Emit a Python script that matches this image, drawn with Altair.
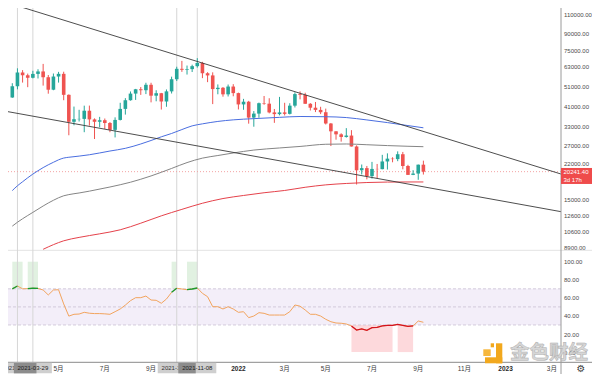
import altair as alt
import pandas as pd
import numpy as np

# ---------------- data ----------------
weeks = [
    "2021-03-01", "2021-03-08", "2021-03-15", "2021-03-22", "2021-03-29", "2021-04-05", "2021-04-12", "2021-04-19", "2021-04-26",
    "2021-05-03", "2021-05-10", "2021-05-17", "2021-05-24", "2021-05-31", "2021-06-07", "2021-06-14", "2021-06-21", "2021-06-28",
    "2021-07-05", "2021-07-12", "2021-07-19", "2021-07-26", "2021-08-02", "2021-08-09", "2021-08-16", "2021-08-23", "2021-08-30",
    "2021-09-06", "2021-09-13", "2021-09-20", "2021-09-27", "2021-10-04", "2021-10-11", "2021-10-18", "2021-10-25", "2021-11-01",
    "2021-11-08", "2021-11-15", "2021-11-22", "2021-11-29", "2021-12-06", "2021-12-13", "2021-12-20", "2021-12-27", "2022-01-03",
    "2022-01-10", "2022-01-17", "2022-01-24", "2022-01-31", "2022-02-07", "2022-02-14", "2022-02-21", "2022-02-28", "2022-03-07",
    "2022-03-14", "2022-03-21", "2022-03-28", "2022-04-04", "2022-04-11", "2022-04-18", "2022-04-25", "2022-05-02", "2022-05-09",
    "2022-05-16", "2022-05-23", "2022-05-30", "2022-06-06", "2022-06-13", "2022-06-20", "2022-06-27", "2022-07-04", "2022-07-11",
    "2022-07-18", "2022-07-25", "2022-08-01", "2022-08-08", "2022-08-15", "2022-08-22", "2022-08-29", "2022-09-05", "2022-09-12"]

opens = [
    45140, 50970, 59020, 57350, 55820, 58200, 59770, 56150, 49070,
    56580, 58250, 46430, 34700, 35680, 35800, 39100, 35600, 34700,
    35290, 34250, 31800, 35400, 39880, 43800, 47050, 49300, 48800,
    51750, 46000, 47250, 43200, 48200, 54950, 61500, 60850, 61300,
    63280, 65470, 58620, 57270, 49400, 50100, 46680, 50780, 47300,
    41860, 43100, 36300, 37900, 42410, 42200, 38400, 37700, 38400,
    37800, 41300, 46800, 46400, 42150, 40400, 39450, 38470, 34060,
    31300, 30300, 29450, 29900, 26570, 20550, 21030, 19300, 20850,
    20800, 22600, 23300, 23180, 24440, 21520, 19550, 19830, 21830]
highs = [
    52640, 61840, 60630, 58400, 60200, 61200, 64850, 57530, 58450,
    59500, 59600, 46660, 40900, 39500, 41300, 41330, 36000, 36600,
    35950, 34600, 36400, 42600, 44800, 48150, 49500, 50500, 52900,
    52900, 48800, 47400, 49200, 56500, 62900, 67000, 63700, 64300,
    69000, 66300, 59300, 59200, 51950, 50500, 51900, 52100, 47550,
    44450, 43500, 38950, 42700, 45850, 44750, 39850, 45400, 42600,
    42400, 47700, 48200, 47500, 42450, 42980, 40800, 40000, 34250,
    31350, 30650, 32400, 31700, 26900, 21870, 21530, 22500, 22000,
    24280, 24670, 23650, 25210, 25050, 21800, 20580, 21860, 22800]
lows = [
    44950, 49270, 53000, 50430, 55470, 55400, 51300, 47000, 48800,
    53000, 43800, 30000, 33400, 34800, 31000, 33300, 28800, 32700,
    32100, 31000, 29300, 35200, 37500, 43600, 43950, 46400, 46800,
    42800, 43300, 39600, 40800, 47100, 53900, 59500, 57800, 59400,
    62300, 55600, 53250, 42000, 46700, 45500, 45600, 45700, 39650,
    39500, 34000, 32900, 36250, 41700, 38000, 34300, 37200, 37150,
    37550, 40500, 44200, 42100, 39200, 38540, 37700, 33700, 26700,
    28600, 28000, 29250, 26560, 17620, 19640, 18630, 18780, 18900,
    20760, 20710, 22400, 22670, 20760, 19530, 19500, 18540, 19620]
closes = [
    50970, 59020, 57350, 55820, 58200, 59770, 56150, 49070, 56580,
    58250, 46430, 34700, 35680, 35800, 39100, 35600, 34700, 35290,
    34250, 31800, 35400, 39880, 43800, 47050, 49300, 48800, 51750,
    46000, 47250, 43200, 48200, 54950, 61500, 60850, 61300, 63280,
    65470, 58620, 57270, 49400, 50100, 46680, 50780, 47300, 41860,
    43100, 36300, 37900, 42410, 42200, 38400, 37700, 38400, 37800,
    41300, 46800, 46400, 42150, 40400, 39450, 38470, 34060, 31300,
    30300, 29450, 29900, 26570, 20550, 21030, 19300, 20850, 20800,
    22600, 23300, 23180, 24440, 21520, 19550, 19830, 21830, 20241.4]

rsi_values = [
    70.0, 73.1, 70.0, 70.2, 70.6, 70.4, 68.7, 63.2, 68.7,
    69.0, 53.3, 39.8, 41.8, 42.1, 44.0, 43.0, 42.6, 42.6,
    42.3, 41.8, 44.7, 47.7, 52.0, 56.9, 60.2, 60.2, 62.0,
    57.6, 57.3, 54.0, 58.7, 66.1, 70.6, 69.8, 69.0, 69.8,
    70.9, 65.0, 61.3, 50.2, 50.2, 47.7, 50.2, 47.7, 44.0,
    44.7, 38.1, 39.9, 43.6, 42.9, 41.0, 41.0, 41.0, 41.0,
    44.7, 52.1, 50.8, 46.6, 41.8, 41.8, 39.9, 36.3, 33.6,
    32.2, 31.9, 31.1, 28.9, 24.4, 25.6, 24.1, 27.0, 27.4,
    28.9, 29.6, 29.6, 30.7, 29.5, 28.4, 28.9, 34.4, 33.0]

ma_fast_dates = ["2021-03-01", "2021-03-08", "2021-03-15", "2021-03-22", "2021-03-29", "2021-04-05", "2021-04-12",
                 "2021-04-19", "2021-04-26", "2021-05-03", "2021-05-10", "2021-05-17", "2021-05-31", "2021-06-14",
                 "2021-07-12", "2021-08-02", "2021-08-23", "2021-09-06", "2021-09-20", "2021-10-04", "2021-10-18",
                 "2021-11-01", "2021-11-15", "2021-12-06", "2021-12-27", "2022-01-24", "2022-02-28", "2022-03-28",
                 "2022-05-02", "2022-05-30", "2022-06-27", "2022-07-25", "2022-08-22", "2022-09-12"]
ma_fast_values = [16500, 17380, 18150, 18950, 19720, 20450, 21150,
                  21800, 22400, 23000, 23450, 23650, 23950, 24300,
                  25300, 26050, 27300, 28350, 29500, 30580, 31900,
                  33200, 33930, 34830, 35430, 35900, 36400, 36740,
                  36650, 36320, 35400, 34400, 33300, 32520]

ma_mid_dates = ["2021-03-01", "2021-03-08", "2021-03-15", "2021-03-29", "2021-04-12", "2021-04-26", "2021-05-10",
                "2021-05-17", "2021-05-31", "2021-06-14", "2021-07-12", "2021-08-09", "2021-09-06", "2021-10-04",
                "2021-10-25", "2021-11-15", "2021-12-06", "2021-12-27", "2022-01-24", "2022-02-28", "2022-03-28",
                "2022-05-02", "2022-05-30", "2022-06-27", "2022-07-25", "2022-08-22", "2022-09-12"]
ma_mid_values = [11240, 11720, 12170, 13040, 13970, 14860, 15600,
                 15800, 16080, 16400, 17150, 18060, 19330, 20960,
                 22330, 23430, 24100, 24770, 25560, 26150, 26580,
                 27220, 27300, 27080, 26830, 26630, 26510]

ma_slow_dates = ["2021-04-12", "2021-04-26", "2021-05-10", "2021-05-31", "2021-06-28", "2021-07-26", "2021-08-23",
                 "2021-09-20", "2021-10-18", "2021-11-15", "2021-12-13", "2022-01-10", "2022-02-07", "2022-03-07",
                 "2022-04-04", "2022-05-02", "2022-05-30", "2022-06-27", "2022-07-25", "2022-08-22", "2022-09-12"]
ma_slow_values = [8750, 9200, 9590, 9950, 10340, 10800, 11600,
                  12560, 13470, 14390, 15140, 15650, 16120, 16520,
                  17100, 17550, 17820, 18000, 18090, 18110, 18110]

trend_dates = ["2021-02-15", "2023-03-20"]
upper_trend = [127900, 19660]
lower_trend = [39160, 13110]

zone_start = ["2021-03-01", "2021-03-22", "2021-10-04", "2021-10-25", "2022-06-06", "2022-08-08"]
zone_end = ["2021-03-15", "2021-04-05", "2021-10-11", "2021-11-08", "2022-08-01", "2022-08-29"]
zone_kind = ["over", "over", "over", "over", "under", "under"]

line_hl_start = ["2021-03-01", "2021-03-22", "2021-10-04", "2021-10-25", "2022-06-06"]
line_hl_end = ["2021-03-08", "2021-04-05", "2021-10-11", "2021-11-08", "2022-08-29"]
line_hl_kind = ["over", "over", "over", "over", "under"]

price_ticks = [110000, 90000, 75000, 63000, 51000, 41000, 33000, 27000, 22000, 18600, 15000, 12600, 10600, 8900]
rsi_ticks = [0, 20, 40, 60, 80, 100]
rsi_levels = [70, 50, 30]
rsi_band = [70, 30]
zone_levels = {"over": (100, 70), "under": (30, 0)}

last_price = [20241.40]
countdown = ["3d 17h"]

marker_dates = ["2021-03-08", "2021-03-29", "2021-10-11", "2021-11-08"]

tick_dates = ["2021-03-01", "2021-05-03", "2021-07-05", "2021-09-06", "2021-11-01", "2022-01-03", "2022-03-07",
              "2022-05-02", "2022-07-04", "2022-09-05", "2022-11-07", "2023-01-02", "2023-03-06"]
tick_labels = ["3月", "5月", "7月", "9月", "11月", "2022", "3月", "5月", "7月", "9月", "11月", "2023", "3月"]
tick_bold = [False, False, False, False, False, True, False, False, False, False, False, True, False]

# ---------------- layout / style ----------------
W, H, PANE = 553, 354.3, 242.3
FULL_W, FULL_H = 584, 366
FONT = "Liberation Sans, Noto Sans CJK SC, sans-serif"
UP, DN = "#26a69a", "#ef5350"
LABEL_SIZE = 6.0

xs = alt.Scale(type="utc", domain=[
    alt.DateTime(year=2021, month=3, date=1, hours=22, minutes=29, utc=True),
    alt.DateTime(year=2023, month=3, date=11, hours=16, minutes=5, utc=True)])
ps = alt.Scale(type="log", domain=[2580.7, 118637], nice=False)
rs = alt.Scale(type="linear", domain=[-11.28, 380.6], nice=False, zero=False)


def X(field="date"):
    return alt.X(f"{field}:T", scale=xs, axis=None)


axis_common = dict(orient="right", format=".2f", grid=False, ticks=False, tickSize=0, domain=False,
                   labelFont=FONT, labelFontSize=LABEL_SIZE, labelColor="#4a4a4a", labelPadding=2.5,
                   labelOverlap=False, title=None)
price_axis = alt.Axis(values=price_ticks, **axis_common)
rsi_axis = alt.Axis(values=rsi_ticks, **axis_common)

one = pd.DataFrame({"a": [0]})

# ---------------- frames ----------------
candles = pd.DataFrame({"date": weeks, "open": opens, "high": highs, "low": lows, "close": closes})
candles["dir"] = np.where(candles["close"] >= candles["open"], "up", "down")
dir_color = alt.Color("dir:N", scale=alt.Scale(domain=["up", "down"], range=[UP, DN]), legend=None)

ma = pd.concat([
    pd.DataFrame({"date": ma_fast_dates, "value": ma_fast_values, "series": "fast"}),
    pd.DataFrame({"date": ma_mid_dates, "value": ma_mid_values, "series": "mid"}),
    pd.DataFrame({"date": ma_slow_dates, "value": ma_slow_values, "series": "slow"}),
])
trend = pd.concat([
    pd.DataFrame({"date": trend_dates, "value": upper_trend, "line": "upper"}),
    pd.DataFrame({"date": trend_dates, "value": lower_trend, "line": "lower"}),
])
rsi_df = pd.DataFrame({"date": weeks, "rsi": rsi_values})
hl_parts = []
for gi, (s, e, k) in enumerate(zip(line_hl_start, line_hl_end, line_hl_kind)):
    sub = rsi_df[(rsi_df["date"] >= s) & (rsi_df["date"] <= e)].copy()
    sub["grp"] = gi
    sub["kind"] = k
    hl_parts.append(sub)
hl_df = pd.concat(hl_parts)
zones = pd.DataFrame({"start": zone_start, "end": zone_end, "kind": zone_kind})
zones["top"] = [zone_levels[k][0] for k in zone_kind]
zones["bottom"] = [zone_levels[k][1] for k in zone_kind]
price_df = pd.DataFrame({"price": last_price, "countdown": countdown})
markers = pd.DataFrame({"date": marker_dates, "label": marker_dates, "pos": [0, 1, 0, 1]})
pairs = pd.DataFrame({"first": marker_dates[0::2], "second": marker_dates[1::2]})
ticks_df = pd.DataFrame({"date": tick_dates, "label": tick_labels, "bold": tick_bold})

# ---------------- layers ----------------
layers = []

# RSI pane background
layers.append(alt.Chart(pd.DataFrame({"hi": [rsi_band[0]], "lo": [rsi_band[1]]})).mark_rect(color="#f3eef9").encode(
    x=alt.value(0), x2=alt.value(W), y=alt.Y("hi:Q", scale=rs, axis=rsi_axis), y2="lo:Q"))
layers.append(alt.Chart(zones).mark_rect().encode(
    x=X("start"), x2="end:T", y=alt.Y("top:Q", scale=rs, axis=None), y2="bottom:Q",
    color=alt.Color("kind:N", scale=alt.Scale(domain=["over", "under"], range=["#e1f1e1", "#fdd9dc"]), legend=None)))
layers.append(alt.Chart(pd.DataFrame({"level": rsi_levels})).mark_rule(
    color="#c9c2d3", strokeDash=[3, 2], strokeWidth=0.8).encode(
    x=alt.value(0), x2=alt.value(W), y=alt.Y("level:Q", scale=rs, axis=None)))

# pane divider
layers.append(alt.Chart(one).mark_rule(color="#e3e3e3", strokeWidth=1).encode(
    x=alt.value(0), x2=alt.value(FULL_W), y=alt.value(PANE)))

# vertical marker lines
layers.append(alt.Chart(markers).mark_rule(color="#d6d6d6", strokeWidth=1).encode(
    x=X("date"), y=alt.value(0), y2=alt.value(H)))

# last price dotted line
layers.append(alt.Chart(price_df).mark_rule(color="#f3a3a3", strokeDash=[1, 2], strokeWidth=1).encode(
    x=alt.value(0), x2=alt.value(W), y=alt.Y("price:Q", scale=ps, axis=None)))

# candles
layers.append(alt.Chart(candles).mark_rule(strokeWidth=1).encode(
    x=X(), y=alt.Y("low:Q", scale=ps, axis=price_axis), y2="high:Q", color=dir_color))
layers.append(alt.Chart(candles).mark_bar(size=3.6).encode(
    x=X(), y=alt.Y("open:Q", scale=ps, axis=None), y2="close:Q", color=dir_color))

# moving averages
layers.append(alt.Chart(ma).mark_line(strokeWidth=1, interpolate="monotone").encode(
    x=X(), y=alt.Y("value:Q", scale=ps, axis=None),
    color=alt.Color("series:N", scale=alt.Scale(domain=["fast", "mid", "slow"],
                                                range=["#4a6ee0", "#858585", "#e5424b"]), legend=None)))

# trend lines
layers.append(alt.Chart(trend).mark_line(color="#3a3a3a", strokeWidth=0.9, clip=True).encode(
    x=X(), y=alt.Y("value:Q", scale=ps, axis=None), detail="line:N"))

# RSI line
layers.append(alt.Chart(rsi_df).mark_line(color="#f2a45e", strokeWidth=1).encode(
    x=X(), y=alt.Y("rsi:Q", scale=rs, axis=None)))
layers.append(alt.Chart(hl_df).mark_line(strokeWidth=1.3).encode(
    x=X(), y=alt.Y("rsi:Q", scale=rs, axis=None), detail="grp:N",
    color=alt.Color("kind:N", scale=alt.Scale(domain=["over", "under"], range=["#1b9a2e", "#d3121f"]), legend=None)))

# axis lines
layers.append(alt.Chart(one).mark_rule(color="#8a8a8a", strokeWidth=1).encode(
    x=alt.value(0), x2=alt.value(FULL_W), y=alt.value(H)))
layers.append(alt.Chart(one).mark_rule(color="#9a9a9a", strokeWidth=1).encode(
    x=alt.value(W), y=alt.value(0), y2=alt.value(FULL_H)))

# last price label
layers.append(alt.Chart(price_df).mark_rect(color="#ef4b4b", yOffset=-3.7, y2Offset=12.3).encode(
    x=alt.value(W), x2=alt.value(FULL_W), y=alt.Y("price:Q", scale=ps, axis=None), y2="price:Q"))
layers.append(alt.Chart(price_df).mark_text(align="left", baseline="middle", color="white", fontSize=LABEL_SIZE,
                                            font=FONT).encode(
    x=alt.value(W + 2.5), y=alt.Y("price:Q", scale=ps, axis=None), text=alt.Text("price:Q", format=".2f")))
layers.append(alt.Chart(price_df).mark_text(align="left", baseline="middle", color="white", fontSize=LABEL_SIZE,
                                            font=FONT, dy=8.3).encode(
    x=alt.value(W + 2.5), y=alt.Y("price:Q", scale=ps, axis=None), text="countdown:N"))

# bottom time labels
layers.append(alt.Chart(ticks_df).transform_filter("!datum.bold").mark_text(
    align="center", baseline="middle", fontSize=6.5, font=FONT, color="#3a3a3a").encode(
    x=X(), y=alt.value(360.5), text="label:N"))
layers.append(alt.Chart(ticks_df).transform_filter("datum.bold").mark_text(
    align="center", baseline="middle", fontSize=6.5, font=FONT, fontWeight="bold", color="#2a2a2a").encode(
    x=X(), y=alt.value(360.5), text="label:N"))

# marker date labels
layers.append(alt.Chart(markers).transform_filter("datum.pos == 0").mark_rect(
    color="#cfcfcf", xOffset=-19, x2Offset=19).encode(
    x=X(), x2="date:T", y=alt.value(H + 0.5), y2=alt.value(H + 11)))
layers.append(alt.Chart(markers).transform_filter("datum.pos == 0").mark_text(
    align="center", baseline="middle", fontSize=6, font=FONT, color="#333").encode(
    x=X(), y=alt.value(360), text="label:N"))
layers.append(alt.Chart(markers).transform_filter("datum.pos == 1").mark_rect(
    color="#cfcfcf", xOffset=-19, x2Offset=19).encode(
    x=X(), x2="date:T", y=alt.value(H + 0.5), y2=alt.value(H + 11)))
layers.append(alt.Chart(pairs).mark_rect(color="#8c8c8c", xOffset=-19, x2Offset=19).encode(
    x=X("second"), x2="first:T", y=alt.value(H + 0.5), y2=alt.value(H + 11)))
layers.append(alt.Chart(markers).transform_filter("datum.pos == 1").mark_text(
    align="center", baseline="middle", fontSize=6, font=FONT, color="#222").encode(
    x=X(), y=alt.value(360), text="label:N"))

# watermark
layers.append(alt.Chart(one).mark_text(text="金色财经", font="Noto Sans CJK SC", fontSize=19.5, fontWeight="bold",
                                       color="#d2d2d2", stroke="#a5a5a5", strokeWidth=0.5, opacity=0.9,
                                       align="center", baseline="middle").encode(
    x=alt.value(541), y=alt.value(344.5)))
logo_color = "#f2a81d"
layers.append(alt.Chart(one).mark_rect(color=logo_color).encode(
    x=alt.value(482.7), x2=alt.value(486), y=alt.value(335.3), y2=alt.value(339.3)))
layers.append(alt.Chart(one).mark_rect(color=logo_color).encode(
    x=alt.value(488), x2=alt.value(494.3), y=alt.value(335.3), y2=alt.value(355.3)))
layers.append(alt.Chart(one).mark_rect(color=logo_color).encode(
    x=alt.value(477), x2=alt.value(494.3), y=alt.value(349.3), y2=alt.value(355.3)))
layers.append(alt.Chart(one).mark_rect(color="#f6b73c").encode(
    x=alt.value(475.3), x2=alt.value(482.7), y=alt.value(341.3), y2=alt.value(348)))

# settings gear
layers.append(alt.Chart(one).mark_text(text="⚙", fontSize=10, color="#444", align="center",
                                       baseline="middle", font="DejaVu Sans").encode(
    x=alt.value(573), y=alt.value(360.5)))

chart = alt.layer(*layers).resolve_scale(y="independent", color="independent").properties(
    width=W, height=H,
    autosize=alt.AutoSizeParams(type="none"),
    padding={"left": 0, "top": 0, "right": FULL_W - W, "bottom": FULL_H - H},
    background="white",
).configure_view(stroke=None)

chart.save("out.html", embed_options={"renderer": "svg", "actions": False})
